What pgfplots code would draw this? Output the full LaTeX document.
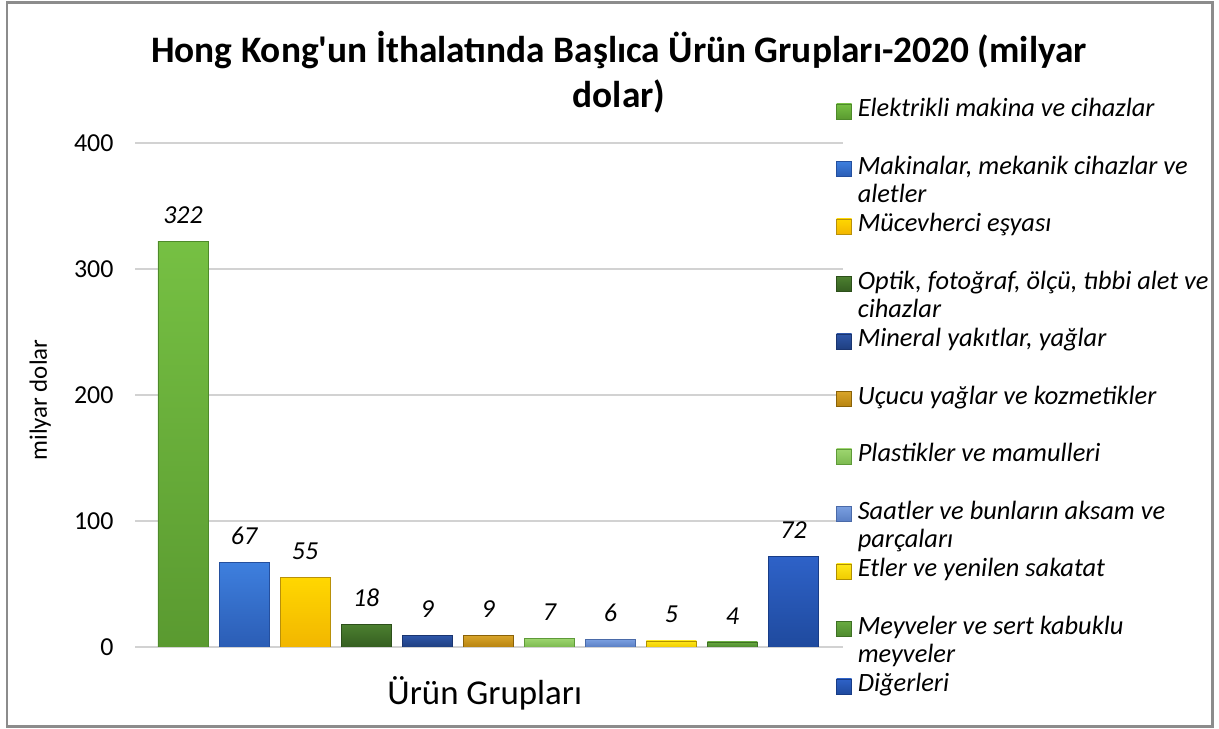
\documentclass[border=0pt]{standalone}
\usepackage{pgfplots}
\pgfplotsset{compat=1.18}
\usepackage{fontspec}
\setmainfont{Carlito}
\newcommand{\LE}[1]{\smash{\parbox[t]{370bp}{\raggedright #1}}}
\begin{document}
\begin{tikzpicture}
\path[use as bounding box] (0,0) rectangle (1219bp,729bp);
\draw[color={rgb,255:red,140;green,140;blue,140}, line width=2.5bp] (7bp,2.5bp) rectangle (1212.5bp,726.5bp);
\node[anchor=base, font=\fontsize{37.5}{42}\selectfont\bfseries] at (619bp,666bp) {Hong Kong\textquotesingle un İthalatında Başlıca Ürün Grupları-2020 (milyar};
\node[anchor=base, font=\fontsize{37.5}{42}\selectfont\bfseries] at (619bp,621bp) {dolar)};
\begin{axis}[
  at={(135bp,82bp)}, anchor=south west,
  scale only axis, width=708bp, height=504bp,
  xmin=-0.786, xmax=10.81, ymin=0, ymax=400,
  ytick={0,100,200,300,400}, xtick=\empty,
  axis line style={draw=none}, tick style={draw=none},
  ymajorgrids, grid style={draw={rgb,255:red,210;green,210;blue,210}, line width=1.5bp},
  /pgf/number format/assume math mode=true,
  yticklabel style={font=\fontsize{26}{30}\selectfont, xshift=-18bp},
  ylabel={milyar dolar},
  ylabel style={font=\fontsize{25}{30}\selectfont, at={(axis description cs:-0.134,0.49)}, anchor=center, rotate=0},
  xlabel={Ürün Grupları},
  xlabel style={font=\fontsize{35}{40}\selectfont, at={(axis description cs:0.494,-0.115)}, anchor=base},
  ybar, bar shift=0pt, bar width=50bp,
  nodes near coords,
  nodes near coords style={font=\fontsize{26}{30}\selectfont\itshape, text=black, anchor=south, inner sep=0pt, yshift=17.5bp},
  every axis plot post/.append style={legend image code/.code={\draw[##1, line width=0.6bp] (0bp,-2bp) rectangle (15bp,13bp);}},
  legend style={at={(1,1)}, anchor=north west, xshift=-7bp, yshift=55bp, draw=none, fill=none, inner sep=0pt, row sep=0pt, column sep=6bp,
    font=\fontsize{26.5}{28}\selectfont\itshape, nodes={inner sep=0pt, text height=28.75bp, text depth=28.75bp}},
  legend cell align=left,
]
\addplot[top color={rgb,255:red,118;green,192;blue,67}, bottom color={rgb,255:red,90;green,154;blue,48}, draw={rgb,255:red,78;green,138;blue,42}] coordinates {(0,322)};
\addlegendentry{\LE{Elektrikli makina ve cihazlar}}
\addplot[top color={rgb,255:red,62;green,127;blue,222}, bottom color={rgb,255:red,43;green,93;blue,181}, draw={rgb,255:red,36;green,79;blue,158}] coordinates {(1,67)};
\addlegendentry{\LE{Makinalar, mekanik cihazlar ve\\aletler}}
\addplot[top color={rgb,255:red,255;green,215;blue,0}, bottom color={rgb,255:red,242;green,182;blue,0}, draw={rgb,255:red,184;green,144;blue,10}] coordinates {(2,55)};
\addlegendentry{\LE{Mücevherci eşyası}}
\addplot[top color={rgb,255:red,76;green,128;blue,48}, bottom color={rgb,255:red,53;green,94;blue,32}, draw={rgb,255:red,44;green,79;blue,26}] coordinates {(3,18)};
\addlegendentry{\LE{Optik, fotoğraf, ölçü, tıbbi alet ve\\cihazlar}}
\addplot[top color={rgb,255:red,46;green,86;blue,168}, bottom color={rgb,255:red,31;green,63;blue,128}, draw={rgb,255:red,26;green,53;blue,112}] coordinates {(4,9)};
\addlegendentry{\LE{Mineral yakıtlar, yağlar}}
\addplot[top color={rgb,255:red,216;green,164;blue,42}, bottom color={rgb,255:red,184;green,132;blue,16}, draw={rgb,255:red,138;green,98;blue,8}] coordinates {(5,9)};
\addlegendentry{\LE{Uçucu yağlar ve kozmetikler}}
\addplot[top color={rgb,255:red,158;green,214;blue,112}, bottom color={rgb,255:red,125;green,186;blue,80}, draw={rgb,255:red,94;green,154;blue,56}] coordinates {(6,7)};
\addlegendentry{\LE{Plastikler ve mamulleri}}
\addplot[top color={rgb,255:red,122;green,159;blue,224}, bottom color={rgb,255:red,90;green,127;blue,196}, draw={rgb,255:red,74;green,106;blue,168}] coordinates {(7,6)};
\addlegendentry{\LE{Saatler ve bunların aksam ve\\parçaları}}
\addplot[top color={rgb,255:red,255;green,232;blue,26}, bottom color={rgb,255:red,240;green,204;blue,0}, draw={rgb,255:red,176;green,144;blue,0}] coordinates {(8,5)};
\addlegendentry{\LE{Etler ve yenilen sakatat}}
\addplot[top color={rgb,255:red,104;green,170;blue,64}, bottom color={rgb,255:red,78;green,138;blue,46}, draw={rgb,255:red,62;green,112;blue,36}] coordinates {(9,4)};
\addlegendentry{\LE{Meyveler ve sert kabuklu\\meyveler}}
\addplot[top color={rgb,255:red,46;green,98;blue,200}, bottom color={rgb,255:red,31;green,74;blue,158}, draw={rgb,255:red,24;green,60;blue,134}] coordinates {(10,72)};
\addlegendentry{\LE{Diğerleri}}
\end{axis}
\end{tikzpicture}
\end{document}
